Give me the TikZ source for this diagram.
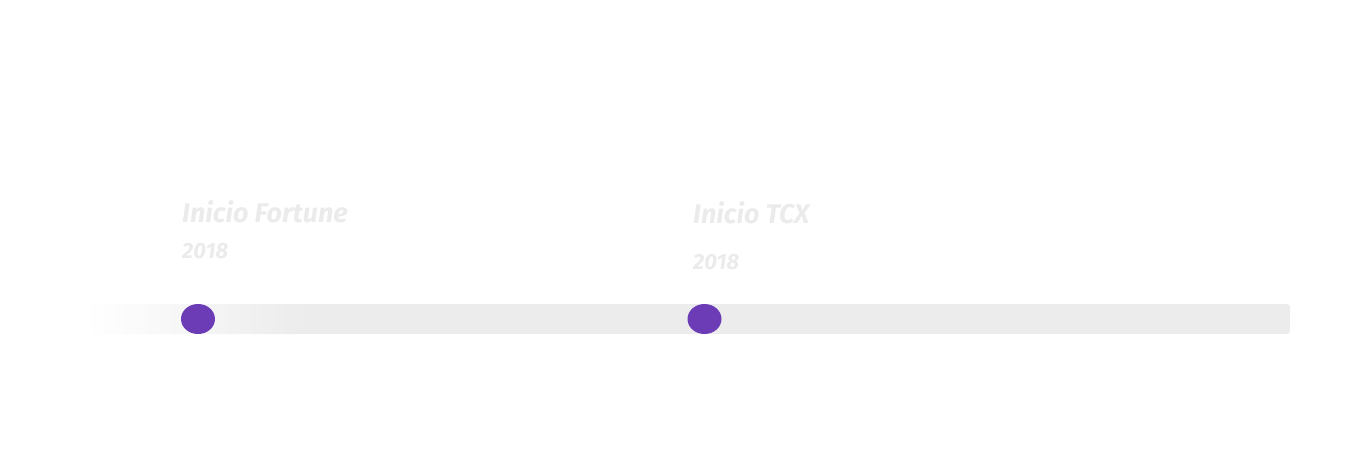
\documentclass[tikz,border=0pt]{standalone}
\usepackage{fontspec}
\usetikzlibrary{shapes.geometric}
\setmainfont{Fira Sans}
\definecolor{bargray}{HTML}{ECECEC}
\definecolor{txtgray}{HTML}{EBEBEB}
\definecolor{dotpurple}{HTML}{6C3CB7}
\pgfdeclarehorizontalshading{barshade}{100bp}{color(0bp)=(white); color(25bp)=(white); color(34bp)=(bargray); color(100bp)=(bargray)}
\begin{document}
\begin{tikzpicture}[x=1pt,y=-1pt,
  title/.style={anchor=base west,inner sep=0pt,text=txtgray,font=\fontsize{27}{27}\selectfont\bfseries\itshape},
  year/.style={anchor=base west,inner sep=0pt,text=txtgray,font=\fontsize{22}{22}\selectfont\bfseries\itshape},
  dot/.style={ellipse,fill=dotpurple,minimum width=34pt,minimum height=30pt,inner sep=0pt}]
\useasboundingbox (0,0) rectangle (1354,448);
\shade[shading=barshade,rounded corners=3pt] (85,304) rectangle (1290,334);
\node[title] (t1) at (182,222) {Inicio Fortune};
\node[year] (y1) at (182,258) {2018};
\node[title] (t2) at (693,223) {Inicio TCX};
\node[year] (y2) at (693,269) {2018};
\node[dot] (d1) at (198,319) {};
\node[dot] (d2) at (704.5,319) {};
\end{tikzpicture}
\end{document}
